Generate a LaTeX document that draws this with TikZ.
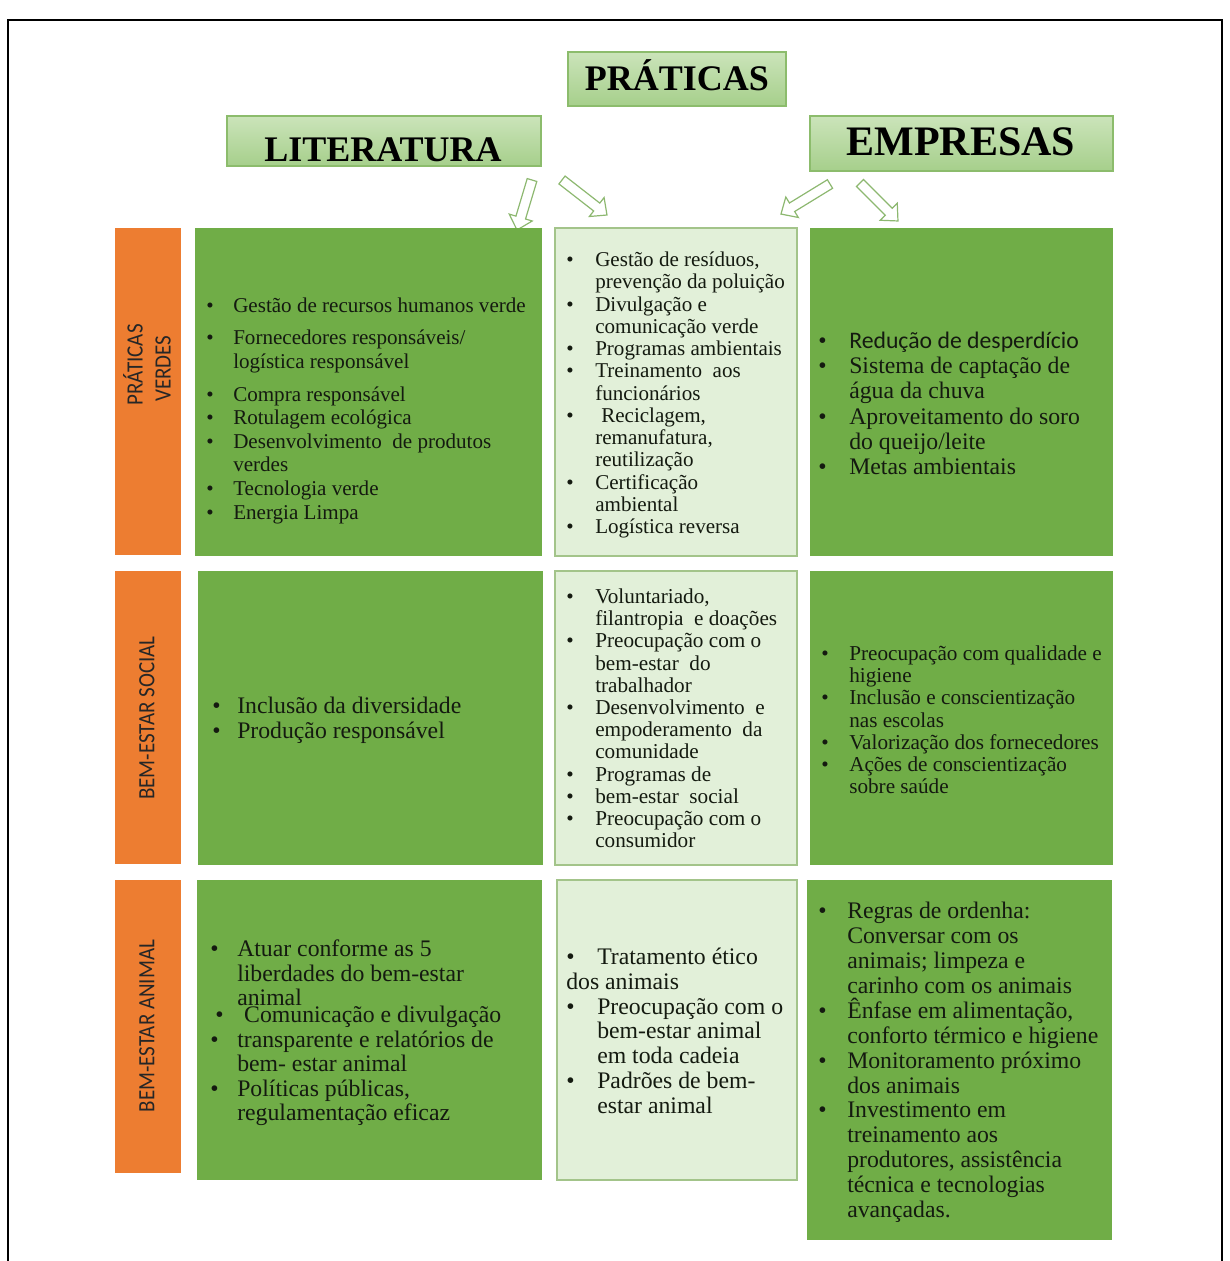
\documentclass[tikz,border=0pt]{standalone}
\usepackage{fontspec}
\setmainfont{Liberation Serif}
\newfontfamily\calib{Carlito}
\newfontfamily\condsans[FakeStretch=0.9]{Carlito}
\usetikzlibrary{fit}
\definecolor{cgreen}{HTML}{70AD47}
\definecolor{clight}{HTML}{E2F0D9}
\definecolor{clightbd}{HTML}{A3C48A}
\definecolor{corange}{HTML}{ED7D31}
\definecolor{hdtop}{HTML}{CBE4BA}
\definecolor{hdbot}{HTML}{A6CF8B}
\definecolor{hdbd}{HTML}{8CBC6C}
\definecolor{arrowbd}{HTML}{8DB870}
\definecolor{ink}{HTML}{141A10}
\newlength{\bwid}
\newcommand{\blist}[4]{{\fontsize{#2}{#3}\selectfont\setlength{\bwid}{#1}\begin{tabular}[t]{@{}l@{}l@{}}#4\end{tabular}}}
\newcommand{\B}{\makebox[\bwid][l]{\textbullet}}
\newcommand{\bi}[1]{\B&\smash{#1}\\}
\newcommand{\ci}[1]{&\smash{#1}\\}
\newcommand{\gap}[1]{\noalign{\vskip #1}}
% block arrow: name, tail x, tail y, angle, length
\newcommand{\blockarrow}[5]{%
  \coordinate (#1) at (#2,#3);
  \begin{scope}[shift={(#1)}, rotate=#4]
    \draw[barrow] (0,-5) -- ({#5-13},-5) -- ({#5-13},-12) -- (#5,0) -- ({#5-13},12) -- ({#5-13},5) -- (0,5) -- cycle;
  \end{scope}}
\tikzset{
  gcell/.style={fill=cgreen, draw=none, inner sep=0pt},
  lcell/.style={fill=clight, draw=clightbd, line width=0.9pt, inner sep=0pt},
  scell/.style={fill=corange, draw=none, inner sep=0pt},
  hbox/.style={top color=hdtop, bottom color=hdbot, draw=hdbd, line width=0.8pt, inner sep=0pt},
  htxt/.style={anchor=base, inner sep=0pt, font=\bfseries},
  txt/.style={anchor=base west, inner sep=0pt, text=ink, yshift=-5.6pt},
  side/.style={rotate=90, inner sep=0pt, text=black!85, align=left, font=\condsans\fontsize{17.5pt}{21pt}\selectfont},
  barrow/.style={draw=arrowbd, fill=white, line width=0.9pt, line join=miter}
}
\begin{document}
\begin{tikzpicture}[x=0.75pt, y=-0.75pt]
\useasboundingbox (0,0) rectangle (1230,1261);
% outer frame
\draw[line width=1.5pt] (8,1262) -- (8,20) -- (1222,20) -- (1222,1262);

% header boxes
\node[hbox, fit={(568,52) (786,106)}] (h0) {};
\node[hbox, fit={(227,116) (541,166)}] (h1) {};
\node[hbox, fit={(810,116) (1113,171)}] (h2) {};
\node[htxt, font=\bfseries\fontsize{27pt}{30pt}\selectfont] (h0t) at (677,90) {PRÁTICAS};
\node[htxt, font=\bfseries\fontsize{27pt}{30pt}\selectfont] (h1t) at (383,161) {LITERATURA};
\node[htxt, font=\bfseries\fontsize{31.5pt}{34pt}\selectfont] (h2t) at (961,155) {EMPRESAS};

% block arrows
\blockarrow{a1}{532}{180}{253.3}{52.2}
\blockarrow{a2}{562}{180}{-37.9}{57}
\blockarrow{a3}{830}{184}{-148.5}{57.5}
\blockarrow{a4}{860}{183}{-45}{53.7}

% side labels
\node[scell, fit={(115,228) (181,555)}] (s1) {};
\node[scell, fit={(115,571) (181,864)}] (s2) {};
\node[scell, fit={(115,880) (181,1173)}] (s3) {};
\node[side] (s1t) at (147,365) {PRÁTICAS\\\hspace{3pt}VERDES};
\node[side] (s2t) at (147,718) {BEM-ESTAR SOCIAL};
\node[side] (s3t) at (147,1026) {BEM-ESTAR ANIMAL};

% cells
\node[gcell, fit={(195,228) (542,556)}] (c11) {};
\node[lcell, fit={(555,228) (797,556)}] (c12) {};
\node[gcell, fit={(810,228) (1113,556)}] (c13) {};
\node[gcell, fit={(198,571) (543,865)}] (c21) {};
\node[lcell, fit={(555,571) (797,865)}] (c22) {};
\node[gcell, fit={(810,571) (1113,865)}] (c23) {};
\node[gcell, fit={(197,880) (542,1180)}] (c31) {};
\node[lcell, fit={(557,880) (797,1180)}] (c32) {};
\node[gcell, fit={(807,880) (1112,1240)}] (c33) {};

% texts row 1
\node[txt] (t11) at (206,305) {\blist{20.25pt}{15.8pt}{17.7pt}{%
\bi{Gestão de recursos humanos verde}\gap{6.3pt}
\bi{Fornecedores responsáveis/}
\ci{logística responsável}\gap{7pt}
\bi{Compra responsável}
\bi{Rotulagem ecológica}
\bi{Desenvolvimento\ \ de produtos}
\ci{verdes}
\bi{Tecnologia verde}
\bi{Energia Limpa}}};

\node[txt] (t12) at (566,259) {\blist{21.75pt}{15.8pt}{16.7pt}{%
\bi{Gestão de resíduos,}
\ci{prevenção da poluição}
\bi{Divulgação e}
\ci{comunicação verde}
\bi{Programas ambientais}
\bi{Treinamento\ \ aos}
\ci{funcionários}
\bi{\hspace{4.5pt}Reciclagem,}
\ci{remanufatura,}
\ci{reutilização}
\bi{Certificação}
\ci{ambiental}
\bi{Logística reversa}}};

\node[txt] (t13) at (818,341) {\blist{23.25pt}{17.8pt}{18.9pt}{%
\bi{\calib Redução de desperdício}
\bi{Sistema de captação de}
\ci{água da chuva}
\bi{Aproveitamento do soro}
\ci{do queijo/leite}
\bi{Metas ambientais}}};

% texts row 2
\node[txt] (t21) at (212,706) {\blist{18.75pt}{17.8pt}{18.75pt}{%
\bi{Inclusão da diversidade}
\bi{Produção responsável}}};

\node[txt] (t22) at (566,596) {\blist{21.75pt}{15.9pt}{16.65pt}{%
\bi{Voluntariado,}
\ci{filantropia\ \ e doações}
\bi{Preocupação com o}
\ci{bem-estar\ \ do}
\ci{trabalhador}
\bi{Desenvolvimento\ \ e}
\ci{empoderamento\ \ da}
\ci{comunidade}
\bi{Programas de}
\bi{bem-estar\ \ social}
\bi{Preocupação com o}
\ci{consumidor}}};

\node[txt] (t23) at (821,653) {\blist{21pt}{15.9pt}{16.65pt}{%
\bi{Preocupação com qualidade e}
\ci{higiene}
\bi{Inclusão e conscientização}
\ci{nas escolas}
\bi{Valorização dos fornecedores}
\bi{Ações de conscientização}
\ci{sobre saúde}}};

% texts row 3
\node[txt] (t31) at (210,949) {\blist{20.25pt}{17.8pt}{18.4pt}{%
\bi{Atuar conforme as 5}
\ci{liberdades do bem-estar}
\ci{animal}\gap{-5.65pt}
\makebox[\bwid][l]{\hspace{3.75pt}\textbullet}&\smash{\hspace{5.25pt}Comunicação e divulgação}\\
\bi{transparente e relatórios de}
\ci{bem- estar animal}
\bi{Políticas públicas,}
\ci{regulamentação eficaz}}};

\node[txt] (t32) at (566,957) {\blist{23.25pt}{17.8pt}{18.6pt}{%
\bi{Tratamento ético}
\multicolumn{2}{@{}l@{}}{\smash{dos animais}}\\
\bi{Preocupação com o}
\ci{bem-estar animal}
\ci{em toda cadeia}
\bi{Padrões de bem-}
\ci{estar animal}}};

\node[txt] (t33) at (818,911) {\blist{21.75pt}{17.8pt}{18.7pt}{%
\bi{Regras de ordenha:}
\ci{Conversar com os}
\ci{animais; limpeza e}
\ci{carinho com os animais}
\bi{Ênfase em alimentação,}
\ci{conforto térmico e higiene}
\bi{Monitoramento próximo}
\ci{dos animais}
\bi{Investimento em}
\ci{treinamento aos}
\ci{produtores, assistência}
\ci{técnica e tecnologias}
\ci{avançadas.}}};
\end{tikzpicture}
\end{document}
